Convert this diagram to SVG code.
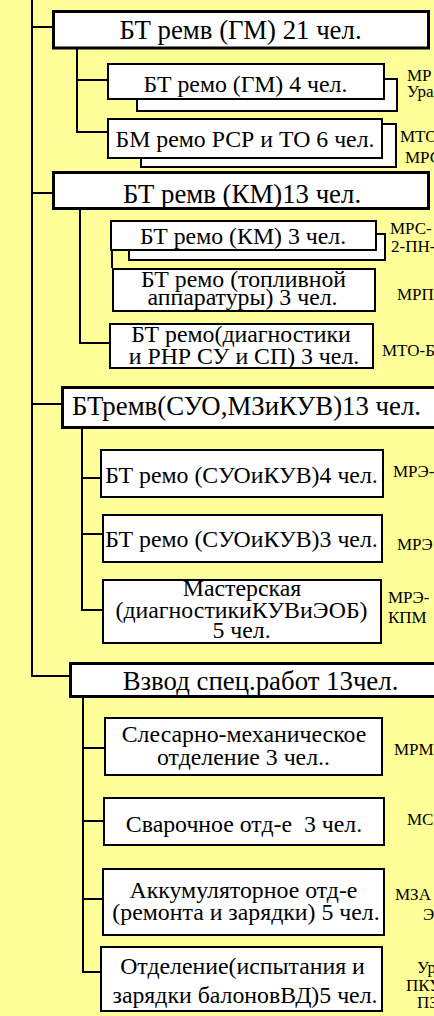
<svg xmlns="http://www.w3.org/2000/svg" width="434" height="1016" viewBox="0 0 434 1016">
<style>
.bg{fill:#FFFF99}
.main{fill:#FFFFFF;stroke:#000;stroke-width:3}
.sub{fill:#FFFFFF;stroke:#000;stroke-width:2}
.conn{stroke:#000;stroke-width:2;fill:none}
.t1{font-family:"Liberation Serif","Times New Roman",serif;font-size:26.8px;fill:#000;text-anchor:middle}
.t2{font-family:"Liberation Serif","Times New Roman",serif;font-size:23.8px;fill:#000;text-anchor:middle}
.lbl{font-family:"Liberation Serif","Times New Roman",serif;font-size:17px;fill:#000}
</style>
<rect class="bg" x="0" y="0" width="434" height="1016"/>
<g id="connectors">
<path class="conn" d="M32,0V676H69"/>
<path class="conn" d="M32,27H52M32,193H52M32,404H61"/>
<path class="conn" d="M77,49V132H107M77,80H107"/>
<path class="conn" d="M80,210V343H109M112,233V268"/>
<path class="conn" d="M82,426V610H102M82,478H100M82,534H102"/>
<path class="conn" d="M83,698V972H100M83,748H104M83,821H103M83,899H102"/>
</g>
<g id="n-gm21">
<rect class="main" x="53.5" y="11.5" width="375" height="36.5"/>
<text class="t1" x="240.5" y="39">БТ ремв (ГМ) 21 чел.</text>
</g>
<g id="n-gm4">
<rect class="sub" x="137" y="79" width="260" height="32"/>
<rect class="sub" x="108" y="64" width="276" height="35"/>
<text class="t2" x="245.5" y="92">БТ ремо (ГМ) 4 чел.</text>
<text class="lbl" x="407" y="81">МР</text>
<text class="lbl" x="407" y="97">Ура</text>
</g>
<g id="n-bm6">
<rect class="sub" x="141" y="124" width="255" height="43"/>
<rect class="sub" x="108" y="119" width="274" height="39"/>
<text class="t2" x="245" y="147">БМ ремо РСР и ТО 6 чел.</text>
<text class="lbl" x="400" y="142">МТО</text>
<text class="lbl" x="405" y="163">МРС</text>
</g>
<g id="n-km13">
<rect class="main" x="53.5" y="172.5" width="375" height="36"/>
<text class="t1" x="242" y="203">БТ ремв (КМ)13 чел.</text>
</g>
<g id="n-km3">
<rect class="sub" x="129" y="234" width="256" height="26"/>
<rect class="sub" x="111" y="221" width="265" height="29"/>
<text class="t2" x="243" y="244">БТ ремо (КМ) 3 чел.</text>
<text class="lbl" x="390" y="234">МРС-</text>
<text class="lbl" x="391" y="252">2-ПН-</text>
</g>
<g id="n-fuel">
<rect class="sub" x="113" y="269" width="262" height="42"/>
<text class="t2" x="243.5" y="287">БТ ремо (топливной</text>
<text class="t2" x="242.5" y="305">аппаратуры) 3 чел.</text>
<text class="lbl" x="397" y="300">МРП</text>
</g>
<g id="n-diag">
<rect class="sub" x="110" y="324" width="263" height="44"/>
<text class="t2" x="241" y="342">БТ ремо(диагностики</text>
<text class="t2" x="244" y="364">и РНР СУ и СП) 3 чел.</text>
<text class="lbl" x="382" y="356">МТО-Б</text>
</g>
<g id="n-suo13">
<rect class="main" x="62.5" y="387.5" width="380" height="40"/>
<text class="t1" x="246.5" y="415">БТремв(СУО,МЗиКУВ)13 чел.</text>
</g>
<g id="n-suo4">
<rect class="sub" x="101" y="450" width="282" height="47"/>
<text class="t2" x="241.5" y="483">БТ ремо (СУОиКУВ)4 чел.</text>
<text class="lbl" x="393" y="477">МРЭ-</text>
</g>
<g id="n-suo3">
<rect class="sub" x="103" y="515" width="279" height="47"/>
<text class="t2" x="241.5" y="547">БТ ремо (СУОиКУВ)3 чел.</text>
<text class="lbl" x="397" y="550">МРЭ</text>
</g>
<g id="n-workshop">
<rect class="sub" x="103" y="580" width="278" height="63"/>
<text class="t2" x="242" y="596">Мастерская</text>
<text class="t2" x="241.5" y="618">(диагностикиКУВиЭОБ)</text>
<text class="t2" x="241.5" y="638">5 чел.</text>
<text class="lbl" x="388" y="603">МРЭ-</text>
<text class="lbl" x="388" y="623">КПМ</text>
</g>
<g id="n-vzvod">
<rect class="main" x="70.5" y="663.5" width="380" height="33"/>
<text class="t1" x="260.5" y="690">Взвод спец.работ 13чел.</text>
</g>
<g id="n-mech">
<rect class="sub" x="105" y="718" width="277" height="57"/>
<text class="t2" x="244" y="742">Слесарно-механическое</text>
<text class="t2" x="243.5" y="765">отделение 3 чел..</text>
<text class="lbl" x="394" y="755">МРМ</text>
</g>
<g id="n-weld">
<rect class="sub" x="104" y="798" width="280" height="47"/>
<text class="t2" x="244" y="832" xml:space="preserve">Сварочное отд-е  3 чел.</text>
<text class="lbl" x="407" y="825">МС</text>
</g>
<g id="n-acc">
<rect class="sub" x="103" y="869" width="281" height="66"/>
<text class="t2" x="243.5" y="898">Аккумуляторное отд-е</text>
<text class="t2" x="246" y="920">(ремонта и зарядки) 5 чел.</text>
<text class="lbl" x="395" y="900">МЗА</text>
<text class="lbl" x="423" y="920">Э</text>
</g>
<g id="n-gas">
<rect class="sub" x="101" y="947" width="281" height="64"/>
<text class="t2" x="242.5" y="974">Отделение(испытания и</text>
<text class="t2" x="245" y="1003">зарядки балоновВД)5 чел.</text>
<text class="lbl" x="417" y="973">Ур</text>
<text class="lbl" x="406" y="991">ПКУ</text>
<text class="lbl" x="417" y="1008">ПЗ</text>
</g>
</svg>
